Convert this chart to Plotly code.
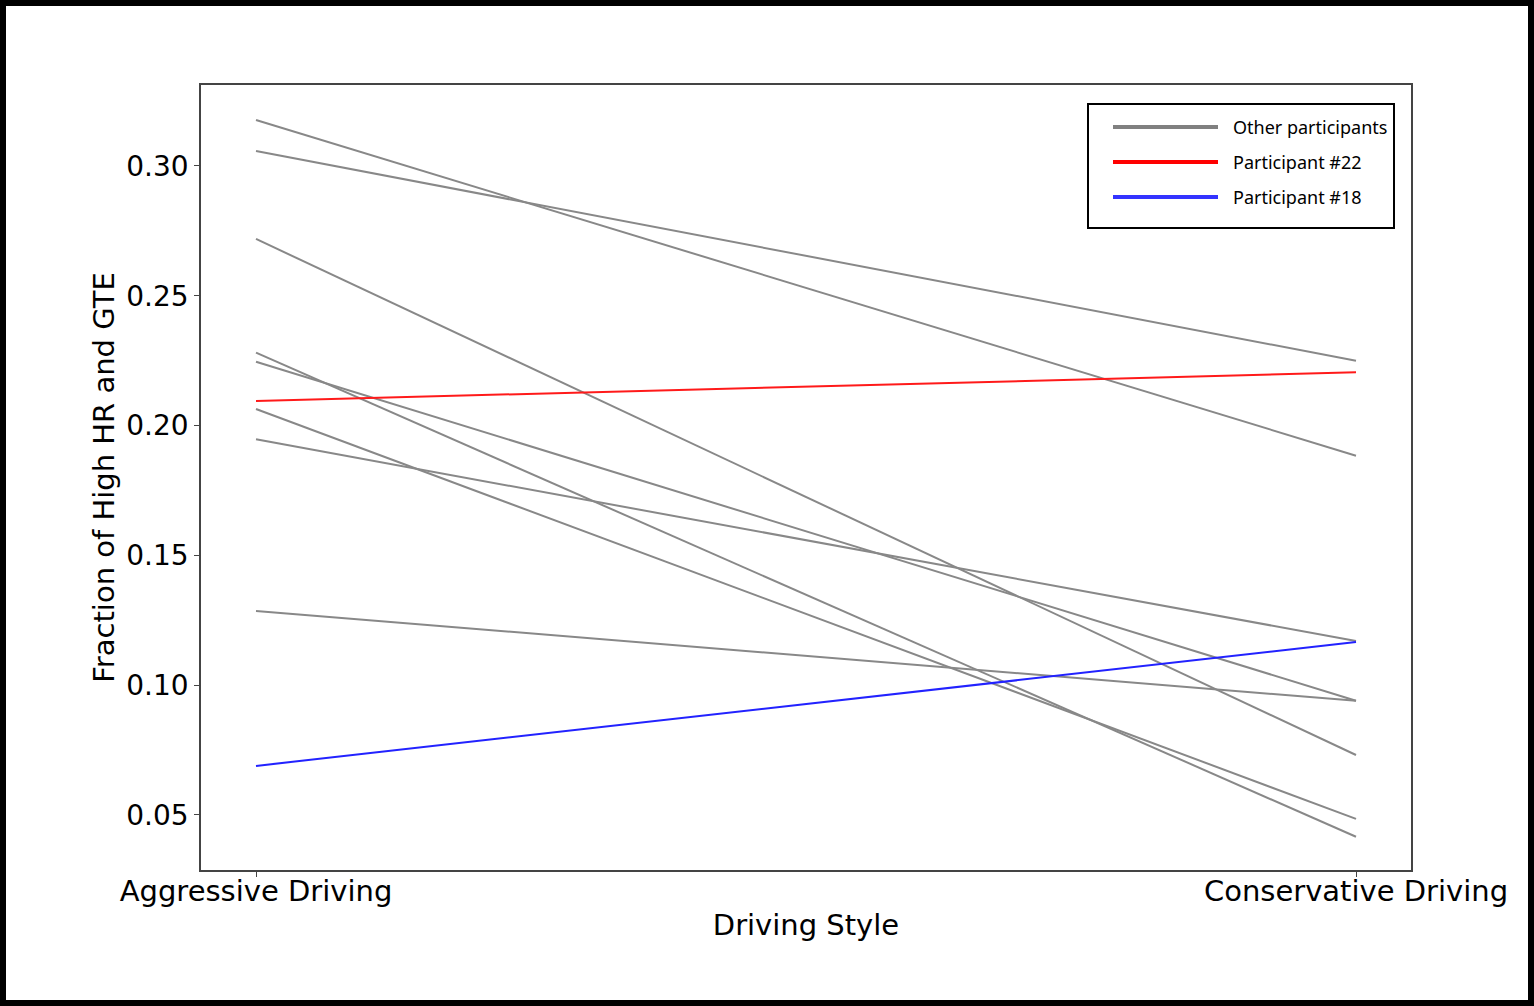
import plotly.graph_objects as go

# driving styles on the x axis
styles = ["Aggressive Driving", "Conservative Driving"]

# fraction values for each participant (aggressive, conservative)
others_aggr = [0.3177, 0.3058, 0.2719, 0.2281, 0.2246, 0.2064, 0.1947, 0.1286]
others_cons = [0.1884, 0.2250, 0.0731, 0.0416, 0.0940, 0.0485, 0.1170, 0.0940]
p22 = [0.2095, 0.2205]
p18 = [0.0689, 0.1166]

legend_names = ["Other participants", "Participant #22", "Participant #18"]
legend_colors = ["#808080", "#ff0000", "#3333ff"]

W, H = 1534, 1006
L, R, T, B = 201, 123, 85, 136
pw, ph = W - L - R, H - T - B

xpos = [0, 1]

fig = go.Figure()

for a, c in zip(others_aggr, others_cons):
    fig.add_trace(go.Scatter(x=xpos, y=[a, c], mode="lines",
                             line=dict(color="#888888", width=2),
                             showlegend=False, hoverinfo="skip"))

fig.add_trace(go.Scatter(x=xpos, y=p22, mode="lines",
                         line=dict(color="#ff1a1a", width=2), showlegend=False))
fig.add_trace(go.Scatter(x=xpos, y=p18, mode="lines",
                         line=dict(color="#2222ff", width=2), showlegend=False))


def px_x(v):
    return (v - L) / pw


def px_y(v):
    return 1 - (v - T) / ph


shapes = []
# black frame around the whole picture
shapes.append(dict(type="rect", xref="paper", yref="paper",
                   x0=px_x(3), x1=px_x(W - 3), y0=px_y(H - 3), y1=px_y(3),
                   line=dict(color="black", width=6)))
# legend box
shapes.append(dict(type="rect", xref="paper", yref="paper",
                   x0=px_x(1088), x1=px_x(1394), y0=px_y(228), y1=px_y(104),
                   line=dict(color="black", width=2), fillcolor="white",
                   layer="above"))

annotations = []
rows = [127, 162, 197]
for name, col, yy in zip(legend_names, legend_colors, rows):
    shapes.append(dict(type="line", xref="paper", yref="paper",
                       x0=px_x(1113), x1=px_x(1218), y0=px_y(yy), y1=px_y(yy),
                       line=dict(color=col, width=4), layer="above"))
    annotations.append(dict(text=name, xref="paper", yref="paper",
                            x=px_x(1231), y=px_y(yy), xanchor="left",
                            yanchor="middle", showarrow=False,
                            font=dict(family="Noto Sans", size=18, color="black")))

fig.update_layout(
    width=W, height=H,
    margin=dict(l=L, r=R, t=T, b=B, autoexpand=False),
    plot_bgcolor="white", paper_bgcolor="white",
    font=dict(family="DejaVu Sans", color="black"),
    shapes=shapes, annotations=annotations,
    xaxis=dict(range=[-0.05, 1.05], tickvals=xpos, ticktext=styles,
               showgrid=False, zeroline=False, showline=True, mirror=True,
               linecolor="#444444", linewidth=1.5, ticks="outside", ticklen=5,
               tickcolor="#444444", tickfont=dict(size=29), ticklabelstandoff=-11,
               title=dict(text="Driving Style", font=dict(size=29), standoff=8)),
    yaxis=dict(range=[0.0288, 0.3312], tickvals=[0.05, 0.10, 0.15, 0.20, 0.25, 0.30],
               tickformat=".2f", showgrid=False, zeroline=False, showline=True,
               mirror=True, linecolor="#444444", linewidth=1.5, ticks="outside",
               ticklen=5, tickcolor="#444444", tickfont=dict(size=28),
               title=dict(text="Fraction of High HR and GTE", font=dict(size=29),
                          standoff=3)),
)

fig.write_html("out.html", config={"displayModeBar": False},
               post_script="document.body.style.margin='0';")
